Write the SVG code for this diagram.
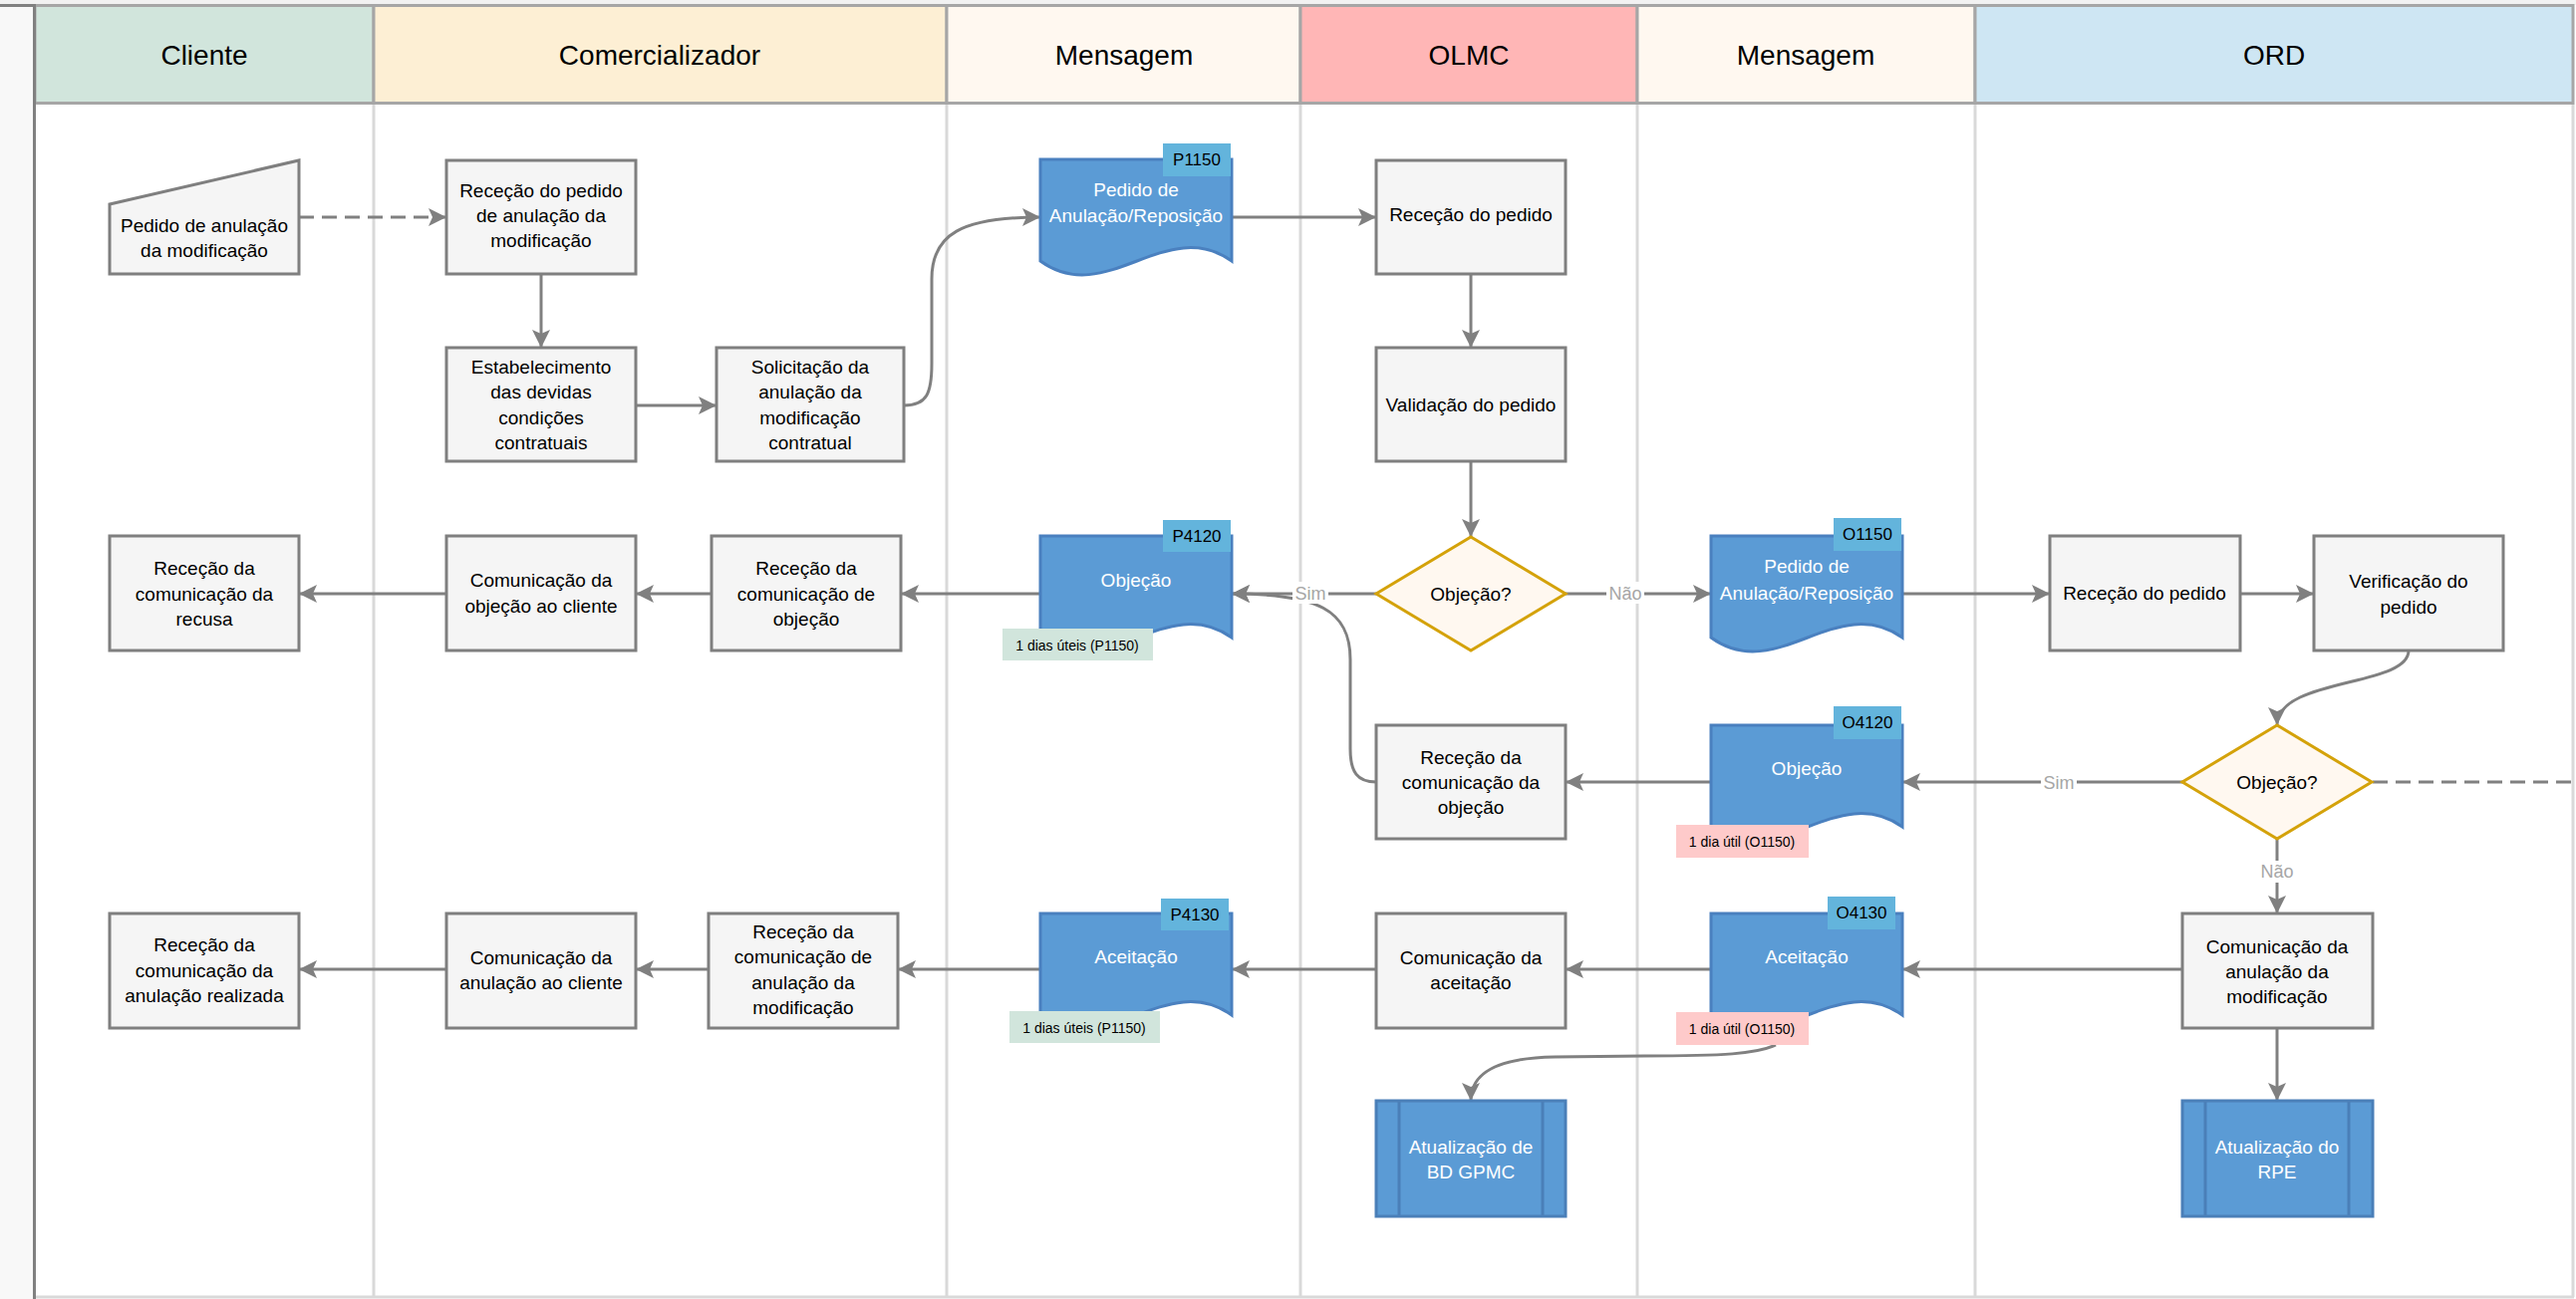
<svg xmlns="http://www.w3.org/2000/svg" width="2585" height="1304" viewBox="0 0 2585 1304">
<defs>
<style>
text{font-family:"Liberation Sans",Arial,sans-serif;text-anchor:middle}
.h{font-size:28px;fill:#000}
.t{font-size:19px;fill:#000}
.tw{font-size:19px;fill:#fff}
.tg{font-size:17px;fill:#000}
.sm{font-size:14px;fill:#000}
.lb{font-size:18px;fill:#a6a6a6}
.box{fill:#f5f5f5;stroke:#7f7f7f;stroke-width:3}
.doc{fill:#5b9bd5;stroke:#4a80bf;stroke-width:3}
.tag{fill:#63b4dc}
.pp{fill:#5b9bd5;stroke:#4a7fb8;stroke-width:3}
.dia{fill:#fff8f0;stroke:#d4a20a;stroke-width:3}
.c{fill:none;stroke:#808080;stroke-width:3}
.a{marker-end:url(#ah)}
.d{stroke-dasharray:15 8}
.hd{stroke:#a6a6a6;stroke-width:3}
.ln{stroke:#d9d9d9;stroke-width:3}
</style>
<marker id="ah" markerUnits="userSpaceOnUse" markerWidth="20" markerHeight="20" viewBox="0 0 20 18" refX="18" refY="9" orient="auto"><path d="M0,0 L18,9 L0,18 L4,9 Z" fill="#808080"/></marker>
</defs>
<rect x="0" y="0" width="2585" height="1304" fill="#ffffff"/>
<rect x="0" y="0" width="2585" height="5" fill="#f2f2f2"/>
<rect x="0" y="5" width="34" height="1299" fill="#f8f8f8"/>
<g id="lanes">
<rect x="35" y="5.5" width="340" height="98" fill="#d1e5dc" class="hd"/>
<rect x="375" y="5.5" width="575" height="98" fill="#fdefd4" class="hd"/>
<rect x="950" y="5.5" width="355" height="98" fill="#fff8f0" class="hd"/>
<rect x="1305" y="5.5" width="338" height="98" fill="#ffb6b6" class="hd"/>
<rect x="1643" y="5.5" width="339" height="98" fill="#fff8f0" class="hd"/>
<rect x="1982" y="5.5" width="600" height="98" fill="#cee6f3" class="hd"/>
<text class="h" x="205" y="65">Cliente</text>
<text class="h" x="662" y="65">Comercializador</text>
<text class="h" x="1128" y="65">Mensagem</text>
<text class="h" x="1474" y="65">OLMC</text>
<text class="h" x="1812" y="65">Mensagem</text>
<text class="h" x="2282" y="65">ORD</text>
<line x1="375" y1="105" x2="375" y2="1302" class="ln"/>
<line x1="950" y1="105" x2="950" y2="1302" class="ln"/>
<line x1="1305" y1="105" x2="1305" y2="1302" class="ln"/>
<line x1="1643" y1="105" x2="1643" y2="1302" class="ln"/>
<line x1="1982" y1="105" x2="1982" y2="1302" class="ln"/>
<line x1="2582" y1="105" x2="2582" y2="1302" class="ln"/>
<line x1="35" y1="1302" x2="2583" y2="1302" class="ln"/>
<line x1="0" y1="5.5" x2="35" y2="5.5" stroke="#808080" stroke-width="3"/>
<line x1="34.5" y1="4" x2="34.5" y2="1304" stroke="#808080" stroke-width="3"/>
</g>
<g id="connectors">
<line x1="300" y1="218" x2="448" y2="218" class="c a d"/>
<line x1="543" y1="275" x2="543" y2="349" class="c a"/>
<line x1="638" y1="407" x2="719" y2="407" class="c a"/>
<path d="M907,407 C930,407 935,395 935,365 L935,280 C935,235 965,218 1044,218" class="c a"/>
<line x1="1236" y1="218" x2="1381" y2="218" class="c a"/>
<line x1="1476" y1="275" x2="1476" y2="349" class="c a"/>
<line x1="1476" y1="463" x2="1476" y2="539" class="c a"/>
<path d="M1381,785 C1362,785 1355,775 1355,752 L1355,662 C1355,612 1322,596 1236,596" class="c a"/>
<line x1="1381" y1="596" x2="1236" y2="596" class="c a"/>
<line x1="1571" y1="596" x2="1717" y2="596" class="c a"/>
<line x1="1044" y1="596" x2="904" y2="596" class="c a"/>
<line x1="714" y1="596" x2="638" y2="596" class="c a"/>
<line x1="448" y1="596" x2="300" y2="596" class="c a"/>
<line x1="1909" y1="596" x2="2057" y2="596" class="c a"/>
<line x1="2248" y1="596" x2="2322" y2="596" class="c a"/>
<path d="M2417,653 C2417,690 2285,680 2285,728" class="c a"/>
<line x1="2190" y1="785" x2="1909" y2="785" class="c a"/>
<line x1="2381" y1="785" x2="2582" y2="785" class="c d"/>
<line x1="2285" y1="842" x2="2285" y2="917" class="c a"/>
<line x1="1717" y1="785" x2="1571" y2="785" class="c a"/>
<line x1="2190" y1="973" x2="1909" y2="973" class="c a"/>
<line x1="1717" y1="973" x2="1571" y2="973" class="c a"/>
<line x1="1381" y1="973" x2="1236" y2="973" class="c a"/>
<line x1="1044" y1="973" x2="901" y2="973" class="c a"/>
<line x1="711" y1="973" x2="638" y2="973" class="c a"/>
<line x1="448" y1="973" x2="300" y2="973" class="c a"/>
<path d="M1782,1049 C1762,1058 1730,1060 1650,1060 L1560,1061 C1500,1062 1476,1078 1476,1105" class="c a"/>
<line x1="2285" y1="1032" x2="2285" y2="1105" class="c a"/>
<rect x="1297" y="584" width="36" height="22" fill="#fff"/>
<text class="lb" x="1315" y="602">Sim</text>
<rect x="1612" y="584" width="38" height="22" fill="#fff"/>
<text class="lb" x="1631" y="602">Não</text>
<rect x="2048" y="774" width="36" height="22" fill="#fff"/>
<text class="lb" x="2066" y="792">Sim</text>
<rect x="2266" y="864" width="38" height="22" fill="#fff"/>
<text class="lb" x="2285" y="881">Não</text>
</g>
<g id="n_pedido_cliente">
<polygon points="110,205 300,161 300,275 110,275" class="box"/>
<text class="t" x="205" y="233">Pedido de anulação</text>
<text class="t" x="205" y="258">da modificação</text>
</g>
<g id="n_rececao_pedido_com">
<rect x="448" y="161" width="190" height="114" class="box"/>
<text class="t" x="543" y="198">Receção do pedido</text>
<text class="t" x="543" y="223">de anulação da</text>
<text class="t" x="543" y="248">modificação</text>
</g>
<g id="n_estabelecimento">
<rect x="448" y="349" width="190" height="114" class="box"/>
<text class="t" x="543" y="375">Estabelecimento</text>
<text class="t" x="543" y="400">das devidas</text>
<text class="t" x="543" y="426">condições</text>
<text class="t" x="543" y="451">contratuais</text>
</g>
<g id="n_solicitacao">
<rect x="719" y="349" width="188" height="114" class="box"/>
<text class="t" x="813" y="375">Solicitação da</text>
<text class="t" x="813" y="400">anulação da</text>
<text class="t" x="813" y="426">modificação</text>
<text class="t" x="813" y="451">contratual</text>
</g>
<g id="n_p1150">
<path d="M1044,160 H1236 V262 C1170,215 1110,310 1044,262 Z" class="doc"/>
<rect x="1167" y="144" width="68" height="33" class="tag"/>
<text class="tg" x="1201" y="166">P1150</text>
<text class="tw" x="1140" y="197">Pedido de</text>
<text class="tw" x="1140" y="223">Anulação/Reposição</text>
</g>
<g id="n_rececao_olmc">
<rect x="1381" y="161" width="190" height="114" class="box"/>
<text class="t" x="1476" y="222">Receção do pedido</text>
</g>
<g id="n_validacao">
<rect x="1381" y="349" width="190" height="114" class="box"/>
<text class="t" x="1476" y="413">Validação do pedido</text>
</g>
<g id="n_objecao_olmc">
<polygon points="1476,539 1571,596 1476,653 1381,596" class="dia"/>
<text class="t" x="1476" y="603">Objeção?</text>
</g>
<g id="n_p4120">
<path d="M1044,538 H1236 V640 C1170,593 1110,688 1044,640 Z" class="doc"/>
<rect x="1167" y="522" width="68" height="32" class="tag"/>
<text class="tg" x="1201" y="544">P4120</text>
<text class="tw" x="1140" y="589">Objeção</text>
<rect x="1006" y="631" width="151" height="32" fill="#d1e5dc"/>
<text class="sm" x="1081" y="653">1 dias úteis (P1150)</text>
</g>
<g id="n_o1150">
<path d="M1717,538 H1909 V640 C1843,593 1783,688 1717,640 Z" class="doc"/>
<rect x="1840" y="520" width="68" height="33" class="tag"/>
<text class="tg" x="1874" y="542">O1150</text>
<text class="tw" x="1813" y="575">Pedido de</text>
<text class="tw" x="1813" y="602">Anulação/Reposição</text>
</g>
<g id="n_recusa">
<rect x="110" y="538" width="190" height="115" class="box"/>
<text class="t" x="205" y="577">Receção da</text>
<text class="t" x="205" y="603">comunicação da</text>
<text class="t" x="205" y="628">recusa</text>
</g>
<g id="n_com_objecao_cliente">
<rect x="448" y="538" width="190" height="115" class="box"/>
<text class="t" x="543" y="589">Comunicação da</text>
<text class="t" x="543" y="615">objeção ao cliente</text>
</g>
<g id="n_rec_com_objecao">
<rect x="714" y="538" width="190" height="115" class="box"/>
<text class="t" x="809" y="577">Receção da</text>
<text class="t" x="809" y="603">comunicação de</text>
<text class="t" x="809" y="628">objeção</text>
</g>
<g id="n_rececao_ord">
<rect x="2057" y="538" width="191" height="115" class="box"/>
<text class="t" x="2152" y="602">Receção do pedido</text>
</g>
<g id="n_verificacao">
<rect x="2322" y="538" width="190" height="115" class="box"/>
<text class="t" x="2417" y="590">Verificação do</text>
<text class="t" x="2417" y="616">pedido</text>
</g>
<g id="n_objecao_ord">
<polygon points="2285,728 2380,785 2285,842 2190,785" class="dia"/>
<text class="t" x="2285" y="792">Objeção?</text>
</g>
<g id="n_o4120">
<path d="M1717,728 H1909 V830 C1843,783 1783,878 1717,830 Z" class="doc"/>
<rect x="1840" y="709" width="68" height="33" class="tag"/>
<text class="tg" x="1874" y="731">O4120</text>
<text class="tw" x="1813" y="778">Objeção</text>
<rect x="1682" y="828" width="133" height="33" fill="#fecaca"/>
<text class="sm" x="1748" y="850">1 dia útil (O1150)</text>
</g>
<g id="n_rec_com_objecao_olmc">
<rect x="1381" y="728" width="190" height="114" class="box"/>
<text class="t" x="1476" y="767">Receção da</text>
<text class="t" x="1476" y="792">comunicação da</text>
<text class="t" x="1476" y="817">objeção</text>
</g>
<g id="n_realizada">
<rect x="110" y="917" width="190" height="115" class="box"/>
<text class="t" x="205" y="955">Receção da</text>
<text class="t" x="205" y="981">comunicação da</text>
<text class="t" x="205" y="1006">anulação realizada</text>
</g>
<g id="n_com_anulacao_cliente">
<rect x="448" y="917" width="190" height="115" class="box"/>
<text class="t" x="543" y="968">Comunicação da</text>
<text class="t" x="543" y="993">anulação ao cliente</text>
</g>
<g id="n_rec_com_anulacao">
<rect x="711" y="917" width="190" height="115" class="box"/>
<text class="t" x="806" y="942">Receção da</text>
<text class="t" x="806" y="967">comunicação de</text>
<text class="t" x="806" y="993">anulação da</text>
<text class="t" x="806" y="1018">modificação</text>
</g>
<g id="n_p4130">
<path d="M1044,917 H1236 V1019 C1170,972 1110,1067 1044,1019 Z" class="doc"/>
<rect x="1165" y="902" width="68" height="32" class="tag"/>
<text class="tg" x="1199" y="924">P4130</text>
<text class="tw" x="1140" y="967">Aceitação</text>
<rect x="1013" y="1015" width="151" height="32" fill="#d1e5dc"/>
<text class="sm" x="1088" y="1037">1 dias úteis (P1150)</text>
</g>
<g id="n_com_aceitacao">
<rect x="1381" y="917" width="190" height="115" class="box"/>
<text class="t" x="1476" y="968">Comunicação da</text>
<text class="t" x="1476" y="993">aceitação</text>
</g>
<g id="n_o4130">
<path d="M1717,917 H1909 V1019 C1843,972 1783,1067 1717,1019 Z" class="doc"/>
<rect x="1834" y="900" width="68" height="33" class="tag"/>
<text class="tg" x="1868" y="922">O4130</text>
<text class="tw" x="1813" y="967">Aceitação</text>
<rect x="1682" y="1016" width="133" height="33" fill="#fecaca"/>
<text class="sm" x="1748" y="1038">1 dia útil (O1150)</text>
</g>
<g id="n_com_anulacao_mod">
<rect x="2190" y="917" width="191" height="115" class="box"/>
<text class="t" x="2285" y="957">Comunicação da</text>
<text class="t" x="2285" y="982">anulação da</text>
<text class="t" x="2285" y="1007">modificação</text>
</g>
<g id="n_bd_gpmc">
<rect x="1381" y="1105" width="190" height="116" class="pp"/>
<line x1="1404" y1="1105" x2="1404" y2="1221" stroke="#4a7fb8" stroke-width="3"/>
<line x1="1548" y1="1105" x2="1548" y2="1221" stroke="#4a7fb8" stroke-width="3"/>
<text class="tw" x="1476" y="1158">Atualização de</text>
<text class="tw" x="1476" y="1183">BD GPMC</text>
</g>
<g id="n_rpe">
<rect x="2190" y="1105" width="191" height="116" class="pp"/>
<line x1="2213" y1="1105" x2="2213" y2="1221" stroke="#4a7fb8" stroke-width="3"/>
<line x1="2357" y1="1105" x2="2357" y2="1221" stroke="#4a7fb8" stroke-width="3"/>
<text class="tw" x="2285" y="1158">Atualização do</text>
<text class="tw" x="2285" y="1183">RPE</text>
</g>
</svg>
